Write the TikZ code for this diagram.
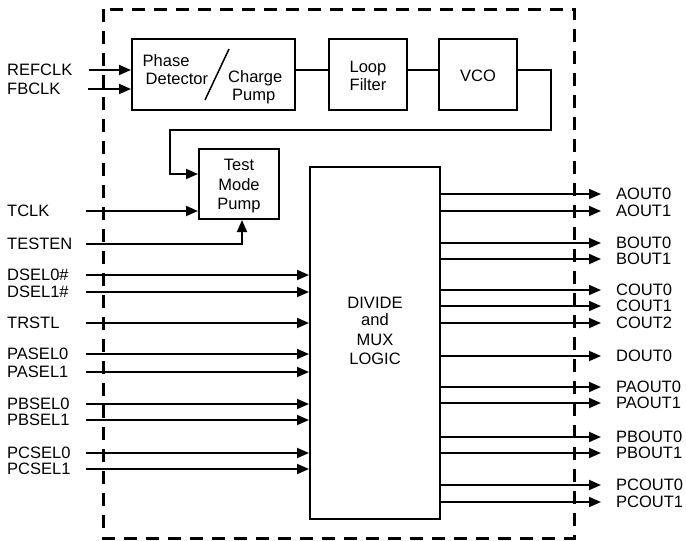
\documentclass[tikz,border=0pt]{standalone}
\usepackage{fontspec}
\setmainfont{Liberation Sans}
\usetikzlibrary{arrows.meta}
\begin{document}
\begin{tikzpicture}[x=1pt,y=-1pt,
  box/.style={draw,line width=2pt,inner sep=0pt},
  wire/.style={line width=1.8pt},
  sig/.style={line width=1.8pt,-{Triangle[length=12pt,width=10pt]}},
  txt/.style={inner sep=0pt,font=\fontsize{16.5}{19}\selectfont},
  pin/.style={txt,text height=11.8pt,text depth=0pt},
  border/.style={line width=3pt,dash pattern=on 13pt off 9pt}]
\path[use as bounding box] (0,0) rectangle (686,541);
% dashed chip outline
\draw[border] (103,9) rectangle (574,538);
% PLL blocks
\node[box,minimum width=163pt,minimum height=71pt] (pd) at (213.5,74.5) {};
\node[box,minimum width=78pt,minimum height=71pt] (lf) at (368,74.5) {};
\node[box,minimum width=78pt,minimum height=71pt] (vco) at (478,74.5) {};
\node[box,minimum width=80pt,minimum height=70pt] (tmp) at (239,184) {};
\node[box,minimum width=130pt,minimum height=352pt] (div) at (375,343) {};
% box texts
\node[txt,anchor=base west] (t1) at (142.5,66) {Phase};
\node[txt,anchor=base west] (t2) at (145.5,84) {Detector};
\node[txt,anchor=base west] (t3) at (228,82) {Charge};
\node[txt,anchor=base west] (t4) at (232,100) {Pump};
\draw[line width=1.5pt] (205,100) -- (229,49);
\node[txt,anchor=base] (t5) at (368,72) {Loop};
\node[txt,anchor=base] (t6) at (368,90.5) {Filter};
\node[txt,anchor=base] (t7) at (478,81.5) {VCO};
\node[txt,anchor=base] (t8) at (239,170) {Test};
\node[txt,anchor=base] (t9) at (239,190) {Mode};
\node[txt,anchor=base] (t10) at (239,209.5) {Pump};
\node[txt,anchor=base] (t11) at (375,308.3) {DIVIDE};
\node[txt,anchor=base] (t12) at (375,325.5) {and};
\node[txt,anchor=base] (t13) at (375,345) {MUX};
\node[txt,anchor=base] (t14) at (375,364) {LOGIC};
% internal wiring
\draw[wire] ([yshift=4.5pt]pd.east) -- ([yshift=4.5pt]lf.west);
\draw[wire] ([yshift=4.5pt]lf.east) -- ([yshift=4.5pt]vco.east -| vco.west);
\coordinate (fb1) at (551,130);
\coordinate (fb2) at (170,130);
\draw[sig] ([yshift=4.5pt]vco.east) -| (fb1) -- (fb2) |- ([yshift=10pt]tmp.west);
% PLL inputs
\node[pin,anchor=west] (refclk) at (7,70) {REFCLK};
\node[pin,anchor=west] (fbclk) at (7,89) {FBCLK};
\coordinate (srefclk) at (89,70);
\coordinate (sfbclk) at (88,89);
\draw[sig] (srefclk) -- (srefclk -| pd.west);
\draw[sig] (sfbclk) -- (sfbclk -| pd.west);
% test inputs
\node[pin,anchor=west] (tclk) at (7,211) {TCLK};
\node[pin,anchor=west] (testen) at (7,244) {TESTEN};
\coordinate (stclk) at (86,211);
\coordinate (stesten) at (86,244);
\draw[sig] (stclk) -- (stclk -| tmp.west);
\draw[sig] (stesten) -| ([xshift=3pt]tmp.south);
% inputs to divide logic
\foreach \n/\y/\t in {i1/275/DSEL0\#,i2/292/DSEL1\#,i3/323/TRSTL,i4/354/PASEL0,i5/372/PASEL1,i6/404/PBSEL0,i7/420/PBSEL1,i8/453/PCSEL0,i9/469/PCSEL1}{
  \node[pin,anchor=west] (\n) at (7,\y) {\t};
  \coordinate (s\n) at (86,\y);
  \draw[sig] (s\n) -- (s\n -| div.west);
}
% outputs
\foreach \n/\y/\t in {o1/194/AOUT0,o2/211/AOUT1,o3/243/BOUT0,o4/259/BOUT1,o5/290/COUT0,o6/306/COUT1,o7/323/COUT2,o8/356/DOUT0,o9/387/PAOUT0,o10/403/PAOUT1,o11/437/PBOUT0,o12/453/PBOUT1,o13/485/PCOUT0,o14/502/PCOUT1}{
  \node[pin,anchor=west] (\n) at (616,\y) {\t};
  \coordinate (e\n) at (601,\y);
  \draw[sig] (e\n -| div.east) -- (e\n);
}
\end{tikzpicture}
\end{document}
